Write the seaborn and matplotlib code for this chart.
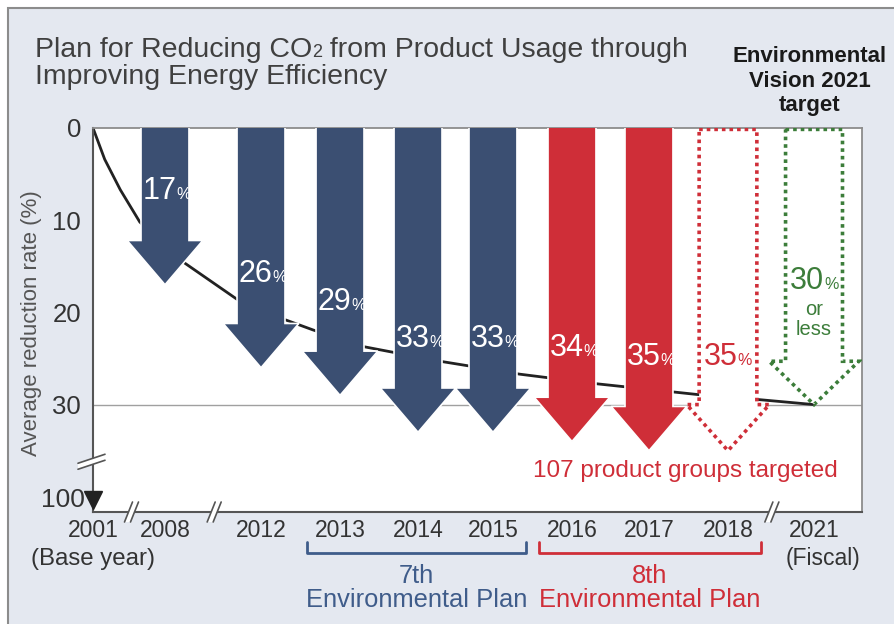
import matplotlib
matplotlib.use("Agg")
import matplotlib.pyplot as plt
import matplotlib.transforms as mtransforms
from matplotlib.patches import Polygon, Rectangle
import seaborn as sns

# values
years = ['2001', '2008', '2012', '2013', '2014', '2015', '2016', '2017', '2018', '2021']
arrow_years = ['2008', '2012', '2013', '2014', '2015', '2016', '2017', '2018', '2021']
arrow_rates = [17, 26, 29, 33, 33, 34, 35, 35, 30]
arrow_status = ['7th', '7th', '7th', '7th', '7th', '8th', '8th', 'plan', 'target']

# trend curve (x in axis slot units, y = reduction %)
curve_x = [0, 0.15, 0.35, 0.60, 1.15, 1.85, 2.40, 2.82, 3.46, 4.45, 5.47, 6.41, 7.74, 8.46, 9.244]
curve_rate = [0, 3.4, 6.7, 10.2, 14.5, 18.6, 20.6, 21.9, 23.7, 25.3, 26.7, 27.7, 28.9, 29.4, 30]

plan_groups = [('7th', '2013', '2015'), ('8th', '2016', '2018')]

# layout (broken x axis -> uneven slots)
slot_pos = [0, 0.923, 2.154, 3.167, 4.167, 5.128, 6.141, 7.128, 8.141, 9.244]
year_pos = dict(zip(years, slot_pos))

NAVY = '#3B4F72'
RED = '#CF2E38'
GREEN = '#3C7D3A'
BLUE_TXT = '#3F5C8A'
BG = '#E4E8F0'

styles = {
    '7th': dict(face=NAVY, edge='white', ls='-', lw=1.2, sw=0.615, hw=0.97, hl=4.8, txt='white', m=0.02),
    '8th': dict(face=RED, edge='white', ls='-', lw=1.2, sw=0.615, hw=0.97, hl=4.8, txt='white', m=0.02),
    'plan': dict(face='white', edge=RED, ls=(0, (1, 1.1)), lw=2.6, sw=0.74, hw=1.06, hl=5.0, txt=RED, m=0.06),
    'target': dict(face='white', edge=GREEN, ls=(0, (1, 1.1)), lw=2.6, sw=0.73, hw=1.15, hl=4.7, txt=GREEN, m=0.055),
}

sns.set_style('white')
plt.rcParams['font.family'] = ['Liberation Sans', 'DejaVu Sans']

W, H = 895, 624
fig = plt.figure(figsize=(W / 100, H / 100), dpi=100, facecolor='white')


def fx(px):
    return px / W


def fy(py):
    return 1 - py / H


# outer light panel
fig.add_artist(Rectangle((fx(8), -0.05), 1.1, fy(8) + 0.05, transform=fig.transFigure,
                         facecolor=BG, edgecolor='#8C8C8C', lw=1.5, zorder=0))

ax = fig.add_axes([fx(93), fy(512), (862 - 93) / W, (512 - 128) / H])
ax.set_facecolor('white')
Y_BOTTOM = 41.65
ax.set_xlim(0, 9.859)
ax.set_ylim(Y_BOTTOM, 0)

# 30% reference line and trend curve
ax.axhline(30, color='#A0A0A0', lw=1, zorder=1)
sns.lineplot(x=curve_x, y=curve_rate, ax=ax, color='#222222', lw=2, zorder=2, sort=False)

# arrows
for yr, v, st in zip(arrow_years, arrow_rates, arrow_status):
    s = styles[st]
    xc = year_pos[yr]
    top = -1 if st in ('7th', '8th') else 0.15
    pts = [(xc - s['sw'] / 2, top), (xc + s['sw'] / 2, top), (xc + s['sw'] / 2, v - s['hl']),
           (xc + s['hw'] / 2, v - s['hl']), (xc, v), (xc - s['hw'] / 2, v - s['hl']),
           (xc - s['sw'] / 2, v - s['hl'])]
    ax.add_patch(Polygon(pts, closed=True, facecolor=s['face'], edgecolor=s['edge'],
                         lw=s['lw'], linestyle=s['ls'], zorder=3, joinstyle='miter'))
    base = 17.5 if st == 'target' else v - 9.3
    t = ax.text(xc - s['sw'] / 2 + s['m'], base, f'{v}', color=s['txt'], fontsize=22,
                ha='left', va='baseline', zorder=4)
    ax.annotate('%', xy=(1, base), xycoords=(t, 'data'), color=s['txt'], fontsize=11.5,
                ha='left', va='baseline', zorder=4)
    if st == 'target':
        ax.text(xc, 19.7, 'or', color=s['txt'], fontsize=14.5, ha='center', va='center', zorder=4)
        ax.text(xc, 21.9, 'less', color=s['txt'], fontsize=14.5, ha='center', va='center', zorder=4)

ax.text(year_pos['2017'] + 0.47, 37.9, '107 product groups targeted', color=RED, fontsize=17.5,
        ha='center', va='baseline', zorder=4)

# axes styling
ax.set_xticks([year_pos[y] for y in years])
ax.set_xticklabels(years)
ax.set_yticks([0, 10, 20, 30])
ax.set_yticklabels(['0', '10', '20', '30'])
ax.tick_params(axis='x', direction='in', length=10.5, width=1, color='#555555',
               labelsize=16.5, labelcolor='#333333', pad=5)
ax.tick_params(axis='y', direction='in', length=7, width=1, color='#555555',
               labelsize=18.5, labelcolor='#333333', pad=8.5)
for side in ['left', 'bottom']:
    ax.spines[side].set_color('#555555')
    ax.spines[side].set_linewidth(1.5)
for side in ['top', 'right']:
    ax.spines[side].set_color('#8C8C8C')
    ax.spines[side].set_linewidth(1.3)
ax.set_xlabel('')
ax.set_ylabel('')

# 100 marker at the broken bottom of the y axis
ax.plot([0], [40.4], marker='v', ms=13, color='#222222', clip_on=False, zorder=6)
ax.annotate('100', xy=(0, 40.4), xytext=(-6, 0), textcoords='offset points', ha='right',
            va='center', fontsize=19, color='#333333', annotation_clip=False)


def axis_break(xd, yd, horizontal):
    trans = fig.dpi_scale_trans + mtransforms.ScaledTranslation(xd, yd, ax.transData)
    if horizontal:
        a, b, off = (-0.15, -0.045), (0.12, 0.045), (0, 0.03)
    else:
        a, b, off = (-0.045, -0.10), (0.035, 0.10), (0.03, 0)
    p1 = [(a[0] - off[0], a[1] - off[1]), (b[0] - off[0], b[1] - off[1])]
    p2 = [(a[0] + off[0], a[1] + off[1]), (b[0] + off[0], b[1] + off[1])]
    ax.add_patch(Polygon([p1[0], p1[1], p2[1], p2[0]], closed=True, facecolor='white',
                         edgecolor='none', transform=trans, clip_on=False, zorder=7))
    for p in (p1, p2):
        ax.plot([p[0][0], p[1][0]], [p[0][1], p[1][1]], color='#555555', lw=1.2,
                transform=trans, clip_on=False, zorder=8)


axis_break(0, 36.2, True)
for xb in [0.5, 1.56, 8.71]:
    axis_break(xb, Y_BOTTOM, False)

# plan brackets below the axis
btrans = mtransforms.blended_transform_factory(ax.transData, fig.transFigure)
for name, y0, y1 in plan_groups:
    col = BLUE_TXT if name == '7th' else RED
    x0 = year_pos[y0] - 0.42
    x1 = year_pos[y1] + 0.42
    ax.plot([x0, x0, x1, x1], [fy(542), fy(553), fy(553), fy(542)], transform=btrans,
            clip_on=False, color=col, lw=2)
    ax.text((x0 + x1) / 2, fy(583), name, transform=btrans, ha='center', va='baseline',
            fontsize=18.4, color=col)
    ax.text((x0 + x1) / 2, fy(607), 'Environmental Plan', transform=btrans, ha='center',
            va='baseline', fontsize=18.4, color=col)

ax.text(year_pos['2001'], fy(565), '(Base year)', transform=btrans, ha='center', va='baseline',
        fontsize=17.3, color='#333333')
ax.text(year_pos['2021'] + 0.12, fy(565), '(Fiscal)', transform=btrans, ha='center', va='baseline',
        fontsize=16.5, color='#333333')

# titles
title_color = '#404040'
t1 = fig.text(fx(35), fy(57), 'Plan for Reducing CO', fontsize=20.5, color=title_color, va='baseline')
sub = ax.annotate('2', xy=(1, fy(57)), xycoords=(t1, 'figure fraction'), fontsize=13,
                  color=title_color, va='baseline', ha='left', annotation_clip=False)
ax.annotate(' from Product Usage through', xy=(1, fy(57)), xycoords=(sub, 'figure fraction'),
            fontsize=20.5, color=title_color, va='baseline', ha='left', annotation_clip=False)
fig.text(fx(35), fy(84), 'Improving Energy Efficiency', fontsize=20.5, color=title_color, va='baseline')

fig.text(fx(810), fy(46), 'Environmental\nVision 2021\ntarget', fontsize=16, fontweight='bold',
         color='#1A1A1A', ha='center', va='top', linespacing=1.22)

fig.text(fx(32), fy(323), 'Average reduction rate (%)', rotation=90, fontsize=16,
         color='#555555', ha='center', va='center')

fig.savefig('out.png', dpi=100, facecolor=fig.get_facecolor())
